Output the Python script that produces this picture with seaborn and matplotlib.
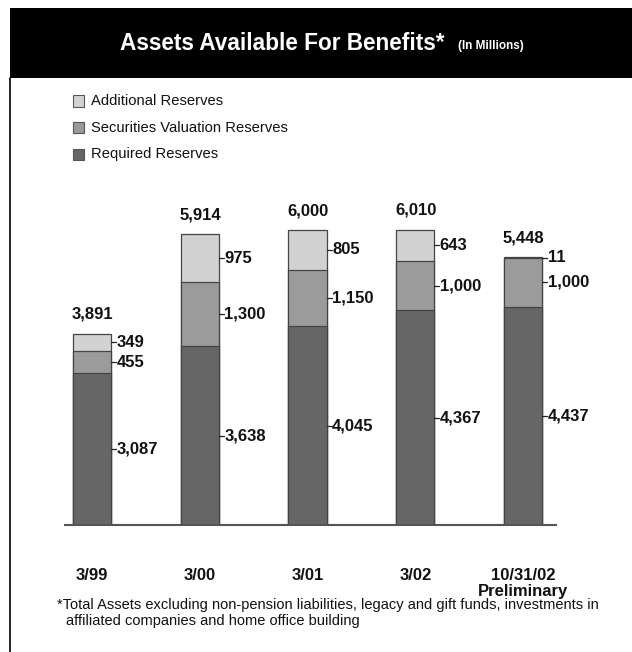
import matplotlib
matplotlib.use("Agg")
import matplotlib.pyplot as plt
from matplotlib.patches import Rectangle
from matplotlib.lines import Line2D
import seaborn as sns
import pandas as pd
import numpy as np

categories = ["3/99", "3/00", "3/01", "3/02", "10/31/02\nPreliminary"]
required = [3087, 3638, 4045, 4367, 4437]
securities = [455, 1300, 1150, 1000, 1000]
additional = [349, 975, 805, 643, 11]
totals = [3891, 5914, 6000, 6010, 5448]
series_names = ["Additional Reserves", "Securities Valuation Reserves", "Required Reserves"]
colors = {"Additional Reserves": "#d2d2d2",
          "Securities Valuation Reserves": "#9b9b9b",
          "Required Reserves": "#666666"}

sns.set_theme(style="white")
plt.rcParams['font.family'] = ['Liberation Sans', 'DejaVu Sans']

W, H = 632, 652
fig = plt.figure(figsize=(W / 100, H / 100), dpi=100)
fig.patch.set_facecolor("white")

def fx(px):
    return px / W

def fy(py):
    return 1 - py / H

# header band and frame
fig.patches.append(Rectangle((fx(10), fy(78)), 1 - fx(10), fy(8) - fy(78),
                             transform=fig.transFigure, facecolor="black",
                             edgecolor="none", zorder=0))
fig.lines.append(Line2D([fx(10.5), fx(10.5)], [0, fy(78)], transform=fig.transFigure,
                        color="black", linewidth=1.2))
fig.text(fx(120), fy(44), "Assets Available For Benefits*", color="white",
         fontsize=16.3, fontweight="bold", ha="left", va="center")
fig.text(fx(458), fy(46.5), "(In Millions)", color="white",
         fontsize=8.5, fontweight="bold", ha="left", va="center")

# legend (manual)
for i, name in enumerate(series_names):
    yc = 101 + i * 26.5
    fig.patches.append(Rectangle((fx(73), fy(yc + 5.5)), fx(11), 11 / H,
                                 transform=fig.transFigure, facecolor=colors[name],
                                 edgecolor="#555555", linewidth=0.8))
    fig.text(fx(91), fy(yc), name, fontsize=10.6, ha="left", va="center", color="#111111")

# axes
ax = fig.add_axes([fx(65), 1 - 525 / H, fx(556) - fx(65), (525 - 181) / H])

df = pd.DataFrame({"cat": categories,
                   "req": required,
                   "sec": np.array(required) + np.array(securities),
                   "tot": np.array(required) + np.array(securities) + np.array(additional)})

bw = 0.353
for col, name in [("tot", "Additional Reserves"),
                  ("sec", "Securities Valuation Reserves"),
                  ("req", "Required Reserves")]:
    sns.barplot(data=df, x="cat", y=col, color=colors[name], saturation=1,
                width=bw, edgecolor="#444444", linewidth=0.9, ax=ax, zorder=2)

ax.set_xlim(-0.25, 4.306)
ax.set_ylim(0, 7000)
ax.set_xlabel("")
ax.set_ylabel("")
ax.set_yticks([])
ax.tick_params(axis="x", length=0, pad=31)
for lbl in ax.get_xticklabels():
    lbl.set_fontweight("bold")
    lbl.set_fontsize(12)
    lbl.set_color("#111111")
    lbl.set_linespacing(1.05)
for s in ["top", "right", "left"]:
    ax.spines[s].set_visible(False)
ax.spines["bottom"].set_color("#555555")
ax.spines["bottom"].set_linewidth(1.5)

# labels
units_per_px = 7000 / (525 - 181)
xpx = 1 / 107.75
for i in range(len(categories)):
    right = i + bw / 2
    left = i - bw / 2
    bottoms = [0, required[i], required[i] + securities[i]]
    vals = [required[i], securities[i], additional[i]]
    for b, v in zip(bottoms, vals):
        ym = b + v / 2
        ax.plot([right, right + 5 * xpx], [ym, ym], color="#222222", linewidth=0.9,
                clip_on=False, zorder=3)
        ax.text(right + 5.5 * xpx, ym, f"{v:,}", fontsize=12, fontweight="bold",
                ha="left", va="center", color="#111111")
    ax.text(left - 1 * xpx, totals[i] + 12 * units_per_px, f"{totals[i]:,}", fontsize=12,
            fontweight="bold", ha="left", va="bottom", color="#111111")

# footnote
fig.text(fx(57), fy(604.5), "*Total Assets excluding non-pension liabilities, legacy and gift funds, investments in",
         fontsize=10.5, ha="left", va="center", color="#111111")
fig.text(fx(66), fy(620.5), "affiliated companies and home office building",
         fontsize=10.5, ha="left", va="center", color="#111111")

fig.savefig("out.png", dpi=100, facecolor="white")
